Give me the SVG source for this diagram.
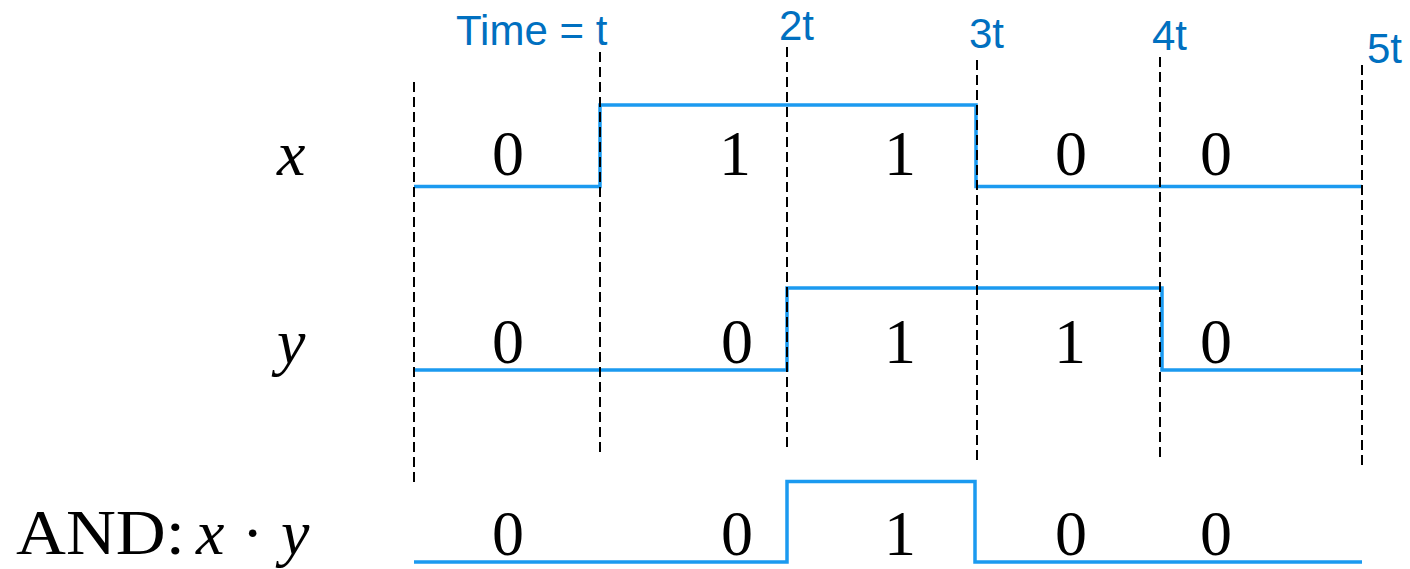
<svg xmlns="http://www.w3.org/2000/svg" width="1410" height="569" viewBox="0 0 1410 569">
<style>
.wave{fill:none;stroke:#1B9AF0;stroke-width:3.5;stroke-linejoin:miter}
.dash{stroke:#000;stroke-width:2;stroke-dasharray:10 5}
.val{font-family:"Liberation Serif",serif;font-size:64px;fill:#000;text-anchor:middle}
.lab{font-family:"Liberation Serif",serif;font-size:64px;font-style:italic;fill:#000}
.tm{font-family:"Liberation Sans",Arial,sans-serif;font-size:42px;fill:#0070C0}
</style>
<rect width="1410" height="569" fill="#fff"/>
<g id="signal-x">
<text class="lab" x="277" y="175">x</text>
<polyline class="wave" points="414,186.5 600,186.5 600,105 976,105 976,186.5 1362,186.5"/>
<text class="val" x="508" y="175">0</text>
<text class="val" x="735" y="175">1</text>
<text class="val" x="900" y="175">1</text>
<text class="val" x="1071" y="175">0</text>
<text class="val" x="1216" y="175">0</text>
</g>
<g id="signal-y">
<text class="lab" x="277" y="363">y</text>
<polyline class="wave" points="414,370 787,370 787,288 1162,288 1162,370 1362,370"/>
<text class="val" x="508" y="363">0</text>
<text class="val" x="737" y="363">0</text>
<text class="val" x="900" y="363">1</text>
<text class="val" x="1070" y="363">1</text>
<text class="val" x="1216" y="363">0</text>
</g>
<g id="signal-and">
<text font-family="Liberation Serif, serif" font-size="64" fill="#000" y="554"><tspan x="16" textLength="169" lengthAdjust="spacingAndGlyphs">AND:</tspan><tspan x="196" font-style="italic">x</tspan><tspan x="242">·</tspan><tspan x="281" font-style="italic">y</tspan></text>
<polyline class="wave" points="414,562 787,562 787,481.5 975,481.5 975,562 1362,562"/>
<text class="val" x="508" y="555">0</text>
<text class="val" x="737" y="555">0</text>
<text class="val" x="900" y="555">1</text>
<text class="val" x="1071" y="555">0</text>
<text class="val" x="1216" y="555">0</text>
</g>
<g id="time-markers">
<line class="dash" x1="414" y1="82" x2="414" y2="486"/>
<line class="dash" x1="600" y1="52" x2="600" y2="457"/>
<line class="dash" x1="787" y1="47" x2="787" y2="452"/>
<line class="dash" x1="977" y1="60" x2="977" y2="465"/>
<line class="dash" x1="1160" y1="57" x2="1160" y2="462"/>
<line class="dash" x1="1362" y1="65" x2="1362" y2="469"/>
<text class="tm" x="456" y="45">Time = t</text>
<text class="tm" x="779" y="40">2t</text>
<text class="tm" x="969" y="48">3t</text>
<text class="tm" x="1152" y="50">4t</text>
<text class="tm" x="1367" y="63">5t</text>
</g>
</svg>
